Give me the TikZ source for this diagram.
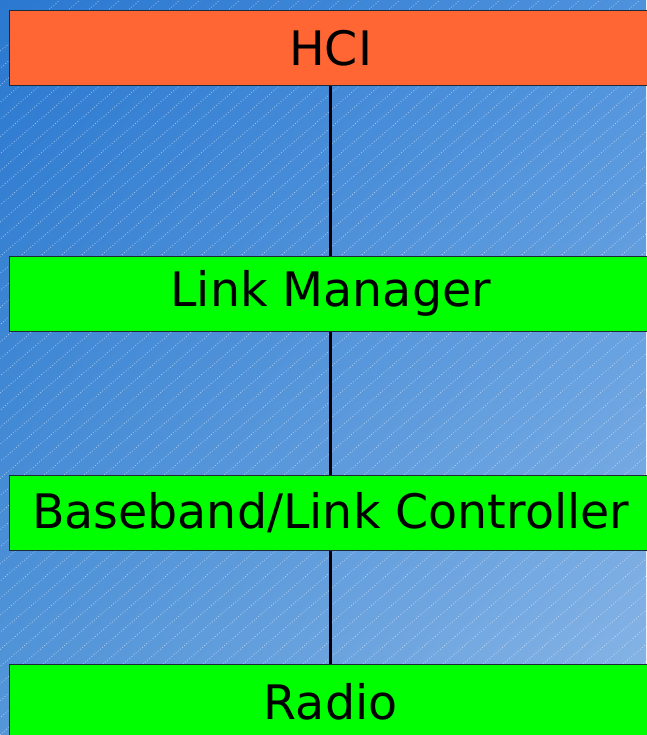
\documentclass[tikz,border=0pt]{standalone}
\usepackage{fontspec}
\setmainfont{DejaVu Sans}
\usetikzlibrary{shadings}
\definecolor{bgTL}{HTML}{2A78D0}
\definecolor{bgTR}{HTML}{4E92DC}
\definecolor{bgBL}{HTML}{5496D8}
\definecolor{bgBR}{HTML}{8AB6E6}
\definecolor{layerorange}{HTML}{FF6633}
\definecolor{layergreen}{HTML}{00FF00}
\definecolor{edgedark}{HTML}{1C2A3A}
\tikzset{
  x=1pt, y=1pt,
  layer/.style={draw=edgedark, line width=1.3pt, minimum width=642pt,
    minimum height=75pt, inner sep=0pt, anchor=north west,
    font=\fontsize{47.5}{52}\selectfont},
  link/.style={line width=3pt, black}
}
\begin{document}
\begin{tikzpicture}
  % backdrop: diagonal gradient with faint dotted hatching
  \useasboundingbox (0,0) rectangle (646,-735);
  \shade[upper left=bgTL, upper right=bgTR, lower left=bgBL, lower right=bgBR]
    (0,0) rectangle (646,-735);
  \begin{scope}
    \clip (0,0) rectangle (646,-735);
    \foreach \i in {-800,-780,...,660} {
      \draw[white, opacity=0.55, line width=0.8pt, dotted]
        (\i,-735) -- ++(860,735);
    }
  \end{scope}

  % protocol layers
  \node[layer, fill=layerorange] (hci) at (9,-10) {HCI};
  \node[layer, fill=layergreen] (lm) at (9,-255.5) {Link Manager};
  \node[layer, fill=layergreen] (bb) at (9,-474.5) {Baseband/Link Controller};
  \node[layer, fill=layergreen] (radio) at (9,-663.5) {Radio};

  % vertical connections between layers
  \draw[link] (hci.south -| 330,0) -- (lm.north -| 330,0);
  \draw[link] (lm.south -| 330,0) -- (bb.north -| 330,0);
  \draw[link] (bb.south -| 330,0) -- (radio.north -| 330,0);
\end{tikzpicture}
\end{document}
